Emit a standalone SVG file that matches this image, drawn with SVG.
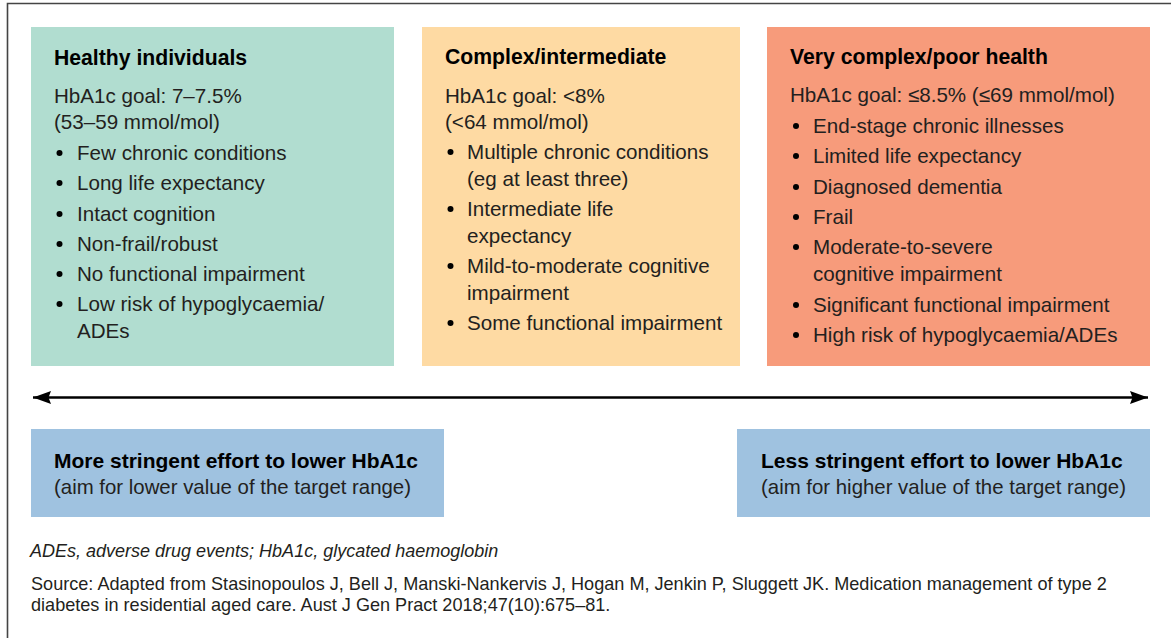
<svg xmlns="http://www.w3.org/2000/svg" width="1171" height="638" viewBox="0 0 1171 638">
<style>
  text { font-family: "Liberation Sans", Arial, Helvetica, sans-serif; }
  .t { font-size: 21.2px; font-weight: bold; fill: #000; }
  .b { font-size: 20.6px; fill: #231f20; }
  .bb { font-size: 21px; font-weight: bold; fill: #000; }
  .bl { font-size: 20.4px; fill: #231f20; }
  .fi { font-size: 18px; font-style: italic; fill: #231f20; }
  .f { font-size: 18.1px; fill: #231f20; }
  .dot { fill: #000; }
</style>
<defs>
  <marker id="ah" markerUnits="userSpaceOnUse" markerWidth="20" markerHeight="14" viewBox="0 0 20 14" refX="18" refY="7" orient="auto-start-reverse">
    <path d="M0,0.5 L18,7 L0,13.5 L2.5,7 Z" fill="#000"/>
  </marker>
</defs>
<rect width="1171" height="638" fill="#fff"/>
<path d="M7.5,638 L7.5,3.5 L1171,3.5" fill="none" stroke="#444" stroke-width="1.6"/>

<g id="healthy">
  <rect x="31" y="27" width="363" height="339" fill="#b1ddd0"/>
  <text class="t" x="54" y="65">Healthy individuals</text>
  <text class="b" x="54" y="103">HbA1c goal: 7–7.5%</text>
  <text class="b" x="54" y="129">(53–59 mmol/mol)</text>
  <circle class="dot" cx="59.5" cy="153" r="3"/>
  <text class="b" x="77" y="160">Few chronic conditions</text>
  <circle class="dot" cx="59.5" cy="183" r="3"/>
  <text class="b" x="77" y="190">Long life expectancy</text>
  <circle class="dot" cx="59.5" cy="214" r="3"/>
  <text class="b" x="77" y="221">Intact cognition</text>
  <circle class="dot" cx="59.5" cy="244" r="3"/>
  <text class="b" x="77" y="251">Non-frail/robust</text>
  <circle class="dot" cx="59.5" cy="274" r="3"/>
  <text class="b" x="77" y="281">No functional impairment</text>
  <circle class="dot" cx="59.5" cy="304" r="3"/>
  <text class="b" x="77" y="311">Low risk of hypoglycaemia/</text>
  <text class="b" x="77" y="338">ADEs</text>
</g>

<g id="intermediate">
  <rect x="422" y="27" width="318" height="339" fill="#fedaa3"/>
  <text class="t" x="445" y="64">Complex/intermediate</text>
  <text class="b" x="445" y="103">HbA1c goal: &lt;8%</text>
  <text class="b" x="445" y="129">(&lt;64 mmol/mol)</text>
  <circle class="dot" cx="450.5" cy="152" r="3"/>
  <text class="b" x="467" y="159">Multiple chronic conditions</text>
  <text class="b" x="467" y="186">(eg at least three)</text>
  <circle class="dot" cx="450.5" cy="209" r="3"/>
  <text class="b" x="467" y="216">Intermediate life</text>
  <text class="b" x="467" y="243">expectancy</text>
  <circle class="dot" cx="450.5" cy="266" r="3"/>
  <text class="b" x="467" y="273">Mild-to-moderate cognitive</text>
  <text class="b" x="467" y="300">impairment</text>
  <circle class="dot" cx="450.5" cy="323" r="3"/>
  <text class="b" x="467" y="330">Some functional impairment</text>
</g>

<g id="poor-health">
  <rect x="767" y="27" width="383" height="339" fill="#f79b7b"/>
  <text class="t" x="790" y="64">Very complex/poor health</text>
  <text class="b" x="790" y="102">HbA1c goal: ≤8.5% (≤69 mmol/mol)</text>
  <circle class="dot" cx="796" cy="126" r="3"/>
  <text class="b" x="813" y="133">End-stage chronic illnesses</text>
  <circle class="dot" cx="796" cy="156" r="3"/>
  <text class="b" x="813" y="163">Limited life expectancy</text>
  <circle class="dot" cx="796" cy="187" r="3"/>
  <text class="b" x="813" y="194">Diagnosed dementia</text>
  <circle class="dot" cx="796" cy="217" r="3"/>
  <text class="b" x="813" y="224">Frail</text>
  <circle class="dot" cx="796" cy="247" r="3"/>
  <text class="b" x="813" y="254">Moderate-to-severe</text>
  <text class="b" x="813" y="281">cognitive impairment</text>
  <circle class="dot" cx="796" cy="305" r="3"/>
  <text class="b" x="813" y="312">Significant functional impairment</text>
  <circle class="dot" cx="796" cy="335" r="3"/>
  <text class="b" x="813" y="342">High risk of hypoglycaemia/ADEs</text>
</g>

<g id="connectors">
  <line x1="33" y1="397.5" x2="1148" y2="397.5" stroke="#000" stroke-width="2.6" marker-start="url(#ah)" marker-end="url(#ah)"/>
</g>

<g id="more-stringent">
  <rect x="31" y="429" width="413" height="88" fill="#9fc2e0"/>
  <text class="bb" x="54" y="468">More stringent effort to lower HbA1c</text>
  <text class="bl" x="54" y="494">(aim for lower value of the target range)</text>
</g>

<g id="less-stringent">
  <rect x="737" y="429" width="413" height="88" fill="#9fc2e0"/>
  <text class="bb" x="761" y="468">Less stringent effort to lower HbA1c</text>
  <text class="bl" x="761" y="494">(aim for higher value of the target range)</text>
</g>

<g id="footnotes">
  <text class="fi" x="30" y="557">ADEs, adverse drug events; HbA1c, glycated haemoglobin</text>
  <text class="f" x="31" y="590">Source: Adapted from Stasinopoulos J, Bell J, Manski-Nankervis J, Hogan M, Jenkin P, Sluggett JK. Medication management of type 2</text>
  <text class="f" x="31" y="611">diabetes in residential aged care. Aust J Gen Pract 2018;47(10):675–81.</text>
</g>
</svg>
